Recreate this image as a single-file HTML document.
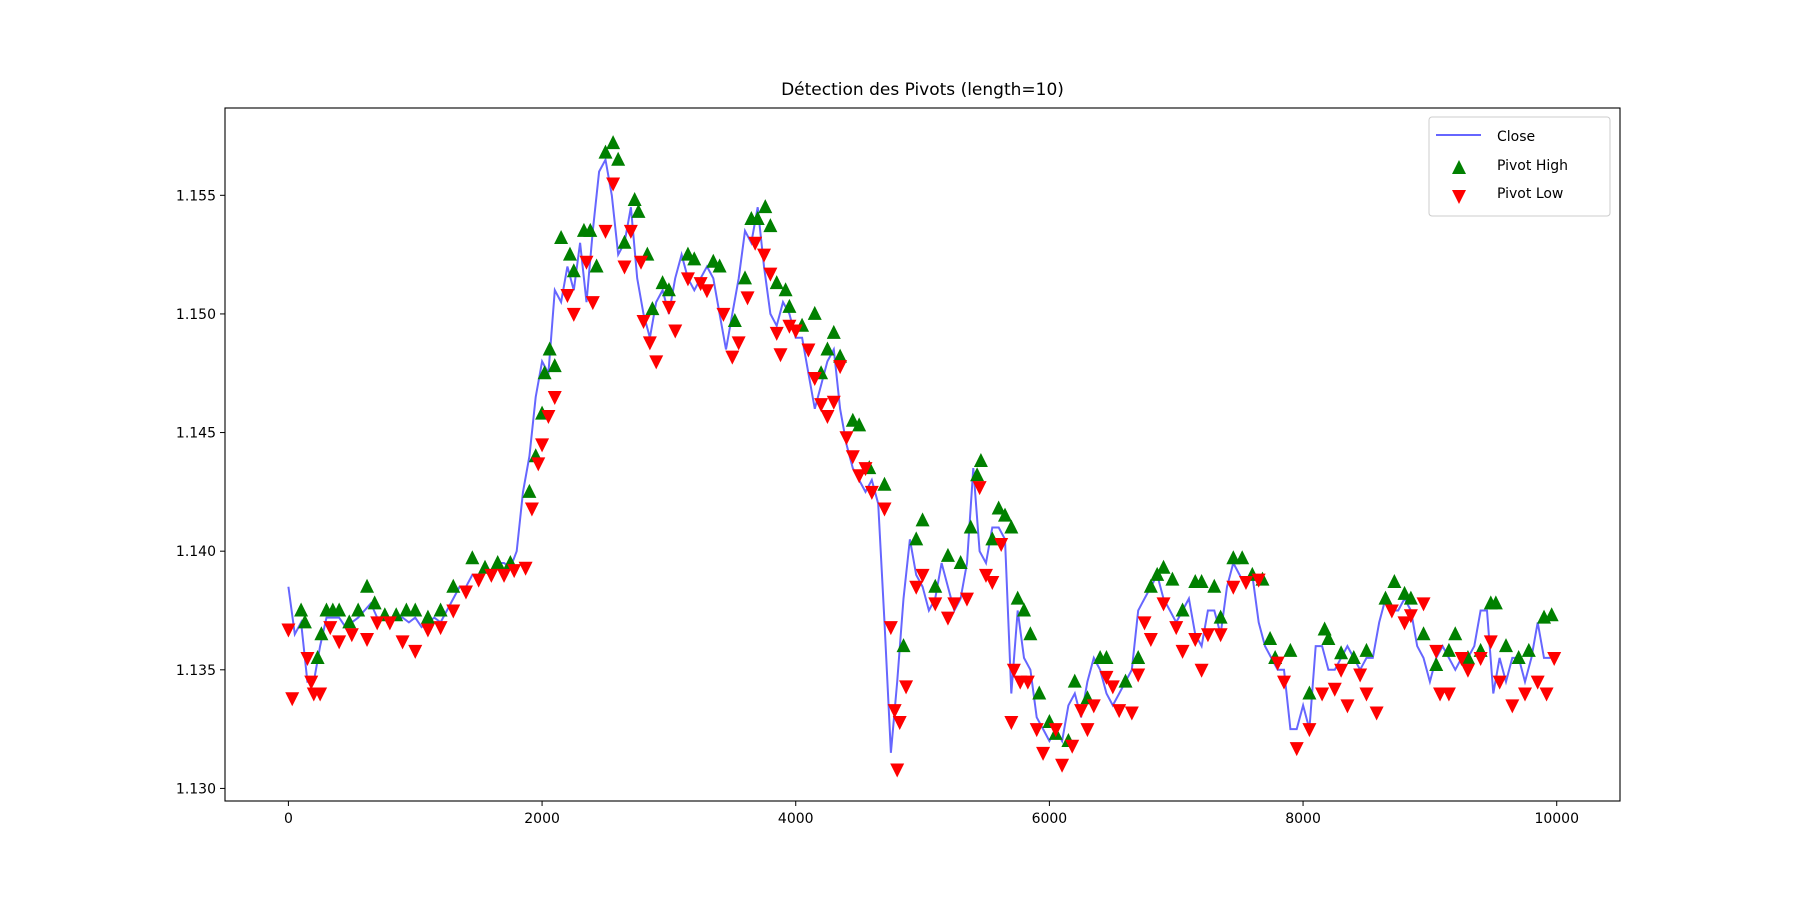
<!DOCTYPE html>
<html><head><meta charset="utf-8"><style>
html,body{margin:0;padding:0;background:#fff;}
svg{display:block;font-family:"DejaVu Sans","Liberation Sans",sans-serif;}
</style></head><body>
<svg id="chart" width="1800" height="900" xmlns="http://www.w3.org/2000/svg"></svg>
<script>
const closeX0 = 0, closeStep = 50;
const closeValues = [1.1385,1.1365,1.1370,1.1345,1.1345,1.1360,1.1372,1.1372,1.1372,1.1368,1.1370,1.1372,1.1375,1.1378,1.1372,1.1372,1.1372,1.1372,1.1372,1.1370,1.1372,1.1368,1.1370,1.1372,1.1370,1.1375,1.1380,1.1385,1.1385,1.1390,1.1390,1.1392,1.1392,1.1395,1.1395,1.1393,1.1400,1.1425,1.1440,1.1465,1.1480,1.1475,1.1510,1.1505,1.1520,1.1510,1.1530,1.1505,1.1535,1.1560,1.1565,1.1550,1.1525,1.1530,1.1545,1.1515,1.1500,1.1490,1.1505,1.1510,1.1500,1.1515,1.1525,1.1515,1.1510,1.1515,1.1520,1.1515,1.1500,1.1485,1.1500,1.1515,1.1535,1.1530,1.1545,1.1520,1.1500,1.1495,1.1505,1.1500,1.1490,1.1490,1.1475,1.1460,1.1470,1.1480,1.1485,1.1460,1.1445,1.1435,1.1430,1.1425,1.1430,1.1420,1.1370,1.1315,1.1345,1.1380,1.1405,1.1390,1.1385,1.1375,1.1380,1.1395,1.1385,1.1375,1.1380,1.1395,1.1435,1.1400,1.1395,1.1410,1.1410,1.1405,1.1340,1.1375,1.1355,1.1350,1.1330,1.1325,1.1320,1.1325,1.1320,1.1335,1.1340,1.1330,1.1345,1.1355,1.1350,1.1340,1.1335,1.1340,1.1345,1.1350,1.1375,1.1380,1.1385,1.1390,1.1380,1.1375,1.1370,1.1375,1.1380,1.1365,1.1360,1.1375,1.1375,1.1365,1.1385,1.1395,1.1390,1.1385,1.1390,1.1370,1.1360,1.1355,1.1350,1.1350,1.1325,1.1325,1.1335,1.1325,1.1360,1.1360,1.1350,1.1350,1.1355,1.1360,1.1355,1.1350,1.1355,1.1355,1.1370,1.1380,1.1375,1.1375,1.1380,1.1375,1.1360,1.1355,1.1345,1.1355,1.1360,1.1355,1.1350,1.1355,1.1355,1.1360,1.1375,1.1375,1.1340,1.1355,1.1345,1.1355,1.1355,1.1345,1.1355,1.1370,1.1355,1.1355];
const highX = [100,130,230,260,300,350,400,480,550,620,680,760,850,930,1000,1100,1200,1300,1450,1550,1650,1750,1900,1950,2000,2020,2060,2100,2150,2220,2250,2330,2380,2430,2500,2560,2600,2650,2730,2760,2830,2870,2950,3000,3150,3200,3350,3400,3520,3600,3650,3700,3760,3800,3850,3920,3950,4050,4150,4200,4250,4300,4350,4450,4500,4580,4700,4850,4950,5000,5100,5200,5300,5380,5430,5460,5550,5600,5650,5700,5750,5800,5850,5920,6000,6050,6150,6200,6300,6400,6450,6600,6700,6800,6850,6900,6970,7050,7150,7200,7300,7350,7450,7520,7600,7680,7740,7780,7900,8050,8170,8200,8300,8400,8500,8650,8720,8800,8850,8950,9050,9150,9200,9300,9400,9480,9520,9600,9700,9780,9900,9960];
const highY = [1.1375,1.1370,1.1355,1.1365,1.1375,1.1375,1.1375,1.1370,1.1375,1.1385,1.1378,1.1373,1.1373,1.1375,1.1375,1.1372,1.1375,1.1385,1.1397,1.1393,1.1395,1.1395,1.1425,1.1440,1.1458,1.1475,1.1485,1.1478,1.1532,1.1525,1.1518,1.1535,1.1535,1.1520,1.1568,1.1572,1.1565,1.1530,1.1548,1.1543,1.1525,1.1502,1.1513,1.1510,1.1525,1.1523,1.1522,1.1520,1.1497,1.1515,1.1540,1.1540,1.1545,1.1537,1.1513,1.1510,1.1503,1.1495,1.1500,1.1475,1.1485,1.1492,1.1482,1.1455,1.1453,1.1435,1.1428,1.1360,1.1405,1.1413,1.1385,1.1398,1.1395,1.1410,1.1432,1.1438,1.1405,1.1418,1.1415,1.1410,1.1380,1.1375,1.1365,1.1340,1.1328,1.1323,1.1320,1.1345,1.1338,1.1355,1.1355,1.1345,1.1355,1.1385,1.1390,1.1393,1.1388,1.1375,1.1387,1.1387,1.1385,1.1372,1.1397,1.1397,1.1390,1.1388,1.1363,1.1355,1.1358,1.1340,1.1367,1.1363,1.1357,1.1355,1.1358,1.1380,1.1387,1.1382,1.1380,1.1365,1.1352,1.1358,1.1365,1.1355,1.1358,1.1378,1.1378,1.1360,1.1355,1.1358,1.1372,1.1373];
const lowX = [0,30,150,180,200,250,330,400,500,620,700,800,900,1000,1100,1200,1300,1400,1500,1600,1700,1780,1870,1920,1970,2000,2050,2100,2200,2250,2350,2400,2500,2560,2650,2700,2780,2800,2850,2900,3000,3050,3150,3250,3300,3430,3500,3550,3620,3680,3750,3800,3850,3880,3950,4000,4100,4150,4200,4250,4300,4350,4400,4450,4500,4550,4600,4700,4750,4780,4800,4820,4870,4950,5000,5100,5200,5250,5350,5450,5500,5550,5620,5700,5720,5770,5830,5900,5950,6050,6100,6180,6250,6300,6350,6450,6500,6550,6650,6700,6750,6800,6900,7000,7050,7150,7200,7250,7350,7450,7550,7650,7800,7850,7950,8050,8150,8250,8300,8350,8450,8500,8580,8700,8800,8850,8950,9050,9080,9150,9250,9300,9400,9480,9550,9650,9750,9850,9920,9980];
const lowY = [1.1367,1.1338,1.1355,1.1345,1.1340,1.1340,1.1368,1.1362,1.1365,1.1363,1.1370,1.1370,1.1362,1.1358,1.1367,1.1368,1.1375,1.1383,1.1388,1.1390,1.1390,1.1392,1.1393,1.1418,1.1437,1.1445,1.1457,1.1465,1.1508,1.1500,1.1522,1.1505,1.1535,1.1555,1.1520,1.1535,1.1522,1.1497,1.1488,1.1480,1.1503,1.1493,1.1515,1.1513,1.1510,1.1500,1.1482,1.1488,1.1507,1.1530,1.1525,1.1517,1.1492,1.1483,1.1495,1.1493,1.1485,1.1473,1.1462,1.1457,1.1463,1.1478,1.1448,1.1440,1.1432,1.1435,1.1425,1.1418,1.1368,1.1333,1.1308,1.1328,1.1343,1.1385,1.1390,1.1378,1.1372,1.1378,1.1380,1.1427,1.1390,1.1387,1.1403,1.1328,1.1350,1.1345,1.1345,1.1325,1.1315,1.1325,1.1310,1.1318,1.1333,1.1325,1.1335,1.1347,1.1343,1.1333,1.1332,1.1348,1.1370,1.1363,1.1378,1.1368,1.1358,1.1363,1.1350,1.1365,1.1365,1.1385,1.1387,1.1388,1.1353,1.1345,1.1317,1.1325,1.1340,1.1342,1.1350,1.1335,1.1348,1.1340,1.1332,1.1375,1.1370,1.1373,1.1378,1.1358,1.1340,1.1340,1.1355,1.1350,1.1355,1.1362,1.1345,1.1335,1.1340,1.1345,1.1340,1.1355];
const xTicks = [0,2000,4000,6000,8000,10000];
const yTicks = [1.130,1.135,1.140,1.145,1.150,1.155];
const yTickLabels = ["1.130","1.135","1.140","1.145","1.150","1.155"];

const NS = "http://www.w3.org/2000/svg";
const svg = document.getElementById('chart');
const L = 225, R = 1620, T = 108, B = 801;
const xMin = -499.95, xMax = 10498.95, yMin = 1.12947, yMax = 1.15868;
const sx = v => L + (v - xMin) / (xMax - xMin) * (R - L);
const sy = v => B - (v - yMin) / (yMax - yMin) * (B - T);
function mk(tag, attrs, parent) {
  const e = document.createElementNS(NS, tag);
  for (const k in attrs) e.setAttribute(k, attrs[k]);
  (parent || svg).appendChild(e);
  return e;
}
const bg = mk('rect', {x:L, y:T, width:R-L, height:B-T, fill:'#fff'});



const clip = mk('clipPath', {id:'clp'});
mk('rect', {x:L, y:T, width:R-L, height:B-T}, clip);

let d = '';
closeValues.forEach((v, i) => { d += (i ? 'L' : 'M') + sx(closeX0 + i*closeStep).toFixed(1) + ',' + sy(v).toFixed(1); });
const line = mk('path', {d:d, fill:'none', stroke:'rgba(0,0,255,0.6)', 'stroke-width':2, 'clip-path':'url(#clp)'});



const gH = mk('g', {'clip-path':'url(#clp)'});


highX.forEach((x, i) => {
  const cx = sx(x), cy = sy(highY[i]);
  const p = mk('polygon', {points:`${cx-7},${cy+6} ${cx+7},${cy+6} ${cx},${cy-8}`, fill:'#008000'}, gH);
  
  
});
const gL = mk('g', {'clip-path':'url(#clp)'});


lowX.forEach((x, i) => {
  const cx = sx(x), cy = sy(lowY[i]);
  const p = mk('polygon', {points:`${cx-7},${cy-6} ${cx+7},${cy-6} ${cx},${cy+8}`, fill:'#ff0000'}, gL);
  
  
});

const frame = mk('rect', {x:L, y:T, width:R-L, height:B-T, fill:'none', stroke:'#000', 'stroke-width':1.1});



xTicks.forEach(t => {
  const x = sx(t);
  mk('line', {x1:x, y1:B, x2:x, y2:B+5, stroke:'#000', 'stroke-width':1});
  const tx = mk('text', {x:x, y:B+22, 'text-anchor':'middle', 'font-size':14, fill:'#000'});
  tx.textContent = String(t);
  
  
});
yTicks.forEach((t, i) => {
  const y = sy(t);
  mk('line', {x1:L-5, y1:y, x2:L, y2:y, stroke:'#000', 'stroke-width':1});
  const tx = mk('text', {x:L-9, y:y+5, 'text-anchor':'end', 'font-size':14, fill:'#000'});
  tx.textContent = yTickLabels[i];
  
  
});

const title = mk('text', {x:(L+R)/2, y:T-13, 'text-anchor':'middle', 'font-size':17, fill:'#000'});
title.textContent = 'Détection des Pivots (length=10)';



const lg = mk('g', {});


mk('rect', {x:1429, y:117, width:181, height:99, rx:3, fill:'rgba(255,255,255,0.8)', stroke:'#cccccc', 'stroke-width':1}, lg);
const e1 = mk('line', {x1:1436, y1:135, x2:1481, y2:135, stroke:'rgba(0,0,255,0.6)', 'stroke-width':2}, lg);


const e2 = mk('polygon', {points:'1452,174 1466,174 1459,160', fill:'#008000'}, lg);


const e3 = mk('polygon', {points:'1452,190 1466,190 1459,204', fill:'#ff0000'}, lg);


[['Close',141],['Pivot High',170],['Pivot Low',198]].forEach(([s, y]) => {
  const t = mk('text', {x:1497, y:y, 'font-size':14, fill:'#000'}, lg);
  t.textContent = s;
  
  
});
</script>
</body></html>
